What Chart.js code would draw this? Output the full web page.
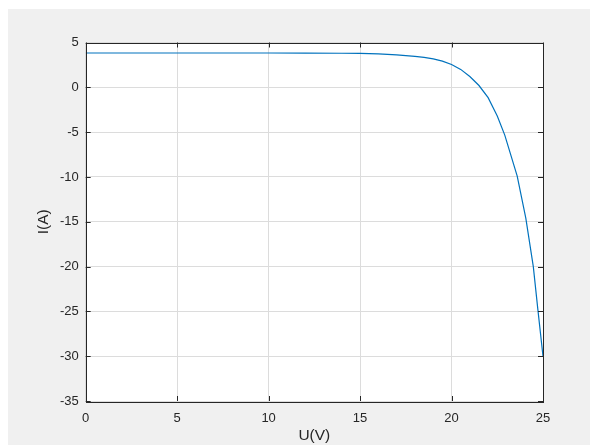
<!DOCTYPE html>
<html>
<head>
<meta charset="utf-8">
<script src="https://cdn.jsdelivr.net/npm/chart.js@4/dist/chart.umd.min.js"></script>
<style>
  html, body { margin: 0; padding: 0; background: #ffffff; }
  canvas { display: block; }
</style>
</head>
<body>
<canvas id="c" width="590" height="445"></canvas>
<script>
// I-U characteristic of the PV module
const voltage = [0, 2, 4, 6, 8, 10, 12, 14, 15, 16, 17, 18, 18.5, 19, 19.5, 20, 20.5, 21, 21.5, 22, 22.5, 22.91, 23.59, 24.06, 24.47, 24.72, 25];
const current = [3.83, 3.83, 3.83, 3.83, 3.83, 3.83, 3.82, 3.80, 3.78, 3.72, 3.62, 3.46, 3.35, 3.18, 2.92, 2.55, 2.0, 1.2, 0.2, -1.15, -3.2, -5.33, -9.9, -14.6, -20, -24.8, -30];
const xTicks = [0, 5, 10, 15, 20, 25];
const yTicks = [-35, -30, -25, -20, -15, -10, -5, 0, 5];

const TEXT = '#262626';
const FONT = '"Liberation Sans", Arial, Helvetica, sans-serif';

// figure background, white axes area, box and inward ticks
const frame = {
  id: 'frame',
  beforeDraw(chart) {
    const { ctx, chartArea: a } = chart;
    ctx.save();
    ctx.fillStyle = '#ffffff';
    ctx.fillRect(0, 0, chart.width, chart.height);
    ctx.fillStyle = '#f0f0f0';
    ctx.fillRect(8, 9, chart.width - 8, chart.height - 9);
    ctx.fillStyle = '#ffffff';
    ctx.fillRect(a.left, a.top, a.right - a.left, a.bottom - a.top);
    ctx.restore();
  },
  afterDraw(chart) {
    const { ctx, chartArea: a, scales } = chart;
    const len = 5;
    ctx.save();
    ctx.strokeStyle = TEXT;
    ctx.lineWidth = 1;
    ctx.beginPath();
    xTicks.forEach(v => {
      const x = Math.round(scales.x.getPixelForValue(v)) + 0.5;
      ctx.moveTo(x, a.bottom); ctx.lineTo(x, a.bottom - len);
      ctx.moveTo(x, a.top); ctx.lineTo(x, a.top + len);
    });
    yTicks.forEach(v => {
      const y = Math.round(scales.y.getPixelForValue(v)) + 0.5;
      ctx.moveTo(a.left, y); ctx.lineTo(a.left + len, y);
      ctx.moveTo(a.right, y); ctx.lineTo(a.right - len, y);
    });
    ctx.stroke();
    ctx.strokeRect(Math.round(a.left) + 0.5, Math.round(a.top) + 0.5,
                   Math.round(a.right - a.left), Math.round(a.bottom - a.top));
    ctx.restore();
  }
};

new Chart(document.getElementById('c'), {
  type: 'scatter',
  data: {
    datasets: [{
      data: voltage.map((u, i) => ({ x: u, y: current[i] })),
      showLine: true,
      borderColor: '#0072BD',
      borderWidth: 1.2,
      pointRadius: 0,
      tension: 0
    }]
  },
  options: {
    responsive: false,
    devicePixelRatio: 1,
    animation: false,
    layout: { padding: { left: 0, right: 47, top: 42.5, bottom: 0 } },
    plugins: { legend: { display: false }, tooltip: { enabled: false } },
    scales: {
      x: {
        type: 'linear', min: 0, max: 25,
        afterBuildTicks(s) { s.ticks = xTicks.map(v => ({ value: v })); },
        afterFit(s) { s.height = 44; },
        grid: { color: '#dcdcdc', drawTicks: false, lineWidth: 1 },
        border: { display: false },
        ticks: { color: TEXT, padding: 10, maxRotation: 0, font: { family: FONT, size: 13 } },
        title: { display: true, text: 'U(V)', color: TEXT, padding: { top: 0, bottom: 0 }, font: { family: FONT, size: 15.5 } }
      },
      y: {
        type: 'linear', min: -35, max: 5,
        afterBuildTicks(s) { s.ticks = yTicks.map(v => ({ value: v })); },
        afterFit(s) { s.width = 85.7; },
        grid: { color: '#dcdcdc', drawTicks: false, lineWidth: 1 },
        border: { display: false },
        ticks: { color: TEXT, padding: 7, font: { family: FONT, size: 13 } },
        title: { display: true, text: 'I(A)', color: TEXT, padding: { top: 34.4, bottom: 0 }, font: { family: FONT, size: 15.5 } }
      }
    }
  },
  plugins: [frame]
});
</script>
</body>
</html>
